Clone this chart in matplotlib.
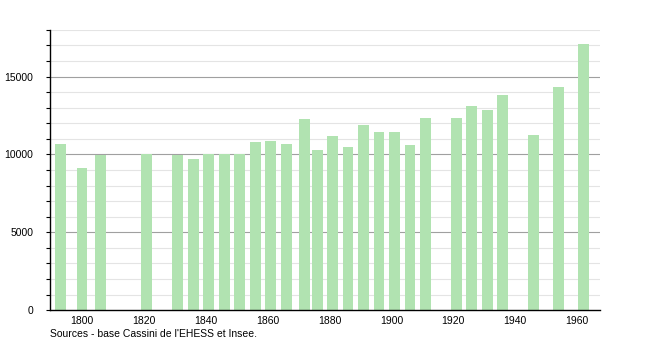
import matplotlib
matplotlib.use("Agg")
import matplotlib.pyplot as plt
from matplotlib.ticker import MultipleLocator

# Population by census year
years = [1793, 1800, 1806, 1821, 1831, 1836, 1841, 1846, 1851, 1856,
         1861, 1866, 1872, 1876, 1881, 1886, 1891, 1896, 1901, 1906,
         1911, 1921, 1926, 1931, 1936, 1946, 1954, 1962]
population = [10700, 9150, 9980, 10000, 9990, 9720, 10050, 10050, 10000, 10820,
              10870, 10700, 12300, 10300, 11200, 10500, 11900, 11450, 11450, 10620,
              12350, 12350, 13130, 12870, 13840, 11260, 14350, 17120]
x_ticks = list(range(1800, 1961, 20))
y_ticks = [0, 5000, 10000, 15000]
source = "Sources - base Cassini de l'EHESS et Insee."

plt.rcParams["font.family"] = ["Liberation Sans", "DejaVu Sans"]

fig = plt.figure(figsize=(6.5, 3.4), dpi=100)
ax = fig.add_axes([0.077, 0.088, 0.846, 0.824])

# ── grid: light every 1000, darker every 5000 ────────────────────────────────
for v in range(1000, 18001, 1000):
    if v % 5000 == 0:
        ax.axhline(v, color="#a0a0a0", lw=0.8, zorder=1)
    else:
        ax.axhline(v, color="#e4e4e4", lw=0.8, zorder=1)

ax.bar(years, population, width=3.5, color="#b1e3b1", zorder=2)

ax.set_xlim(1789.7, 1967.4)
ax.set_ylim(0, 18000)
ax.set_xticks(x_ticks)
ax.set_yticks(y_ticks)
ax.yaxis.set_minor_locator(MultipleLocator(1000))
ax.tick_params(axis="x", length=0, labelsize=7.5, pad=4)
ax.tick_params(axis="y", which="major", length=3, width=0.8, labelsize=7.5, pad=9)
ax.tick_params(axis="y", which="minor", length=3, width=0.8)

ax.spines[["top", "right"]].set_visible(False)
for s in ("left", "bottom"):
    ax.spines[s].set_linewidth(1.0)
    ax.spines[s].set_color("black")

fig.text(0.077, 0.004, source, fontsize=7.5, ha="left", va="bottom")

fig.savefig("out.png", dpi=100)
